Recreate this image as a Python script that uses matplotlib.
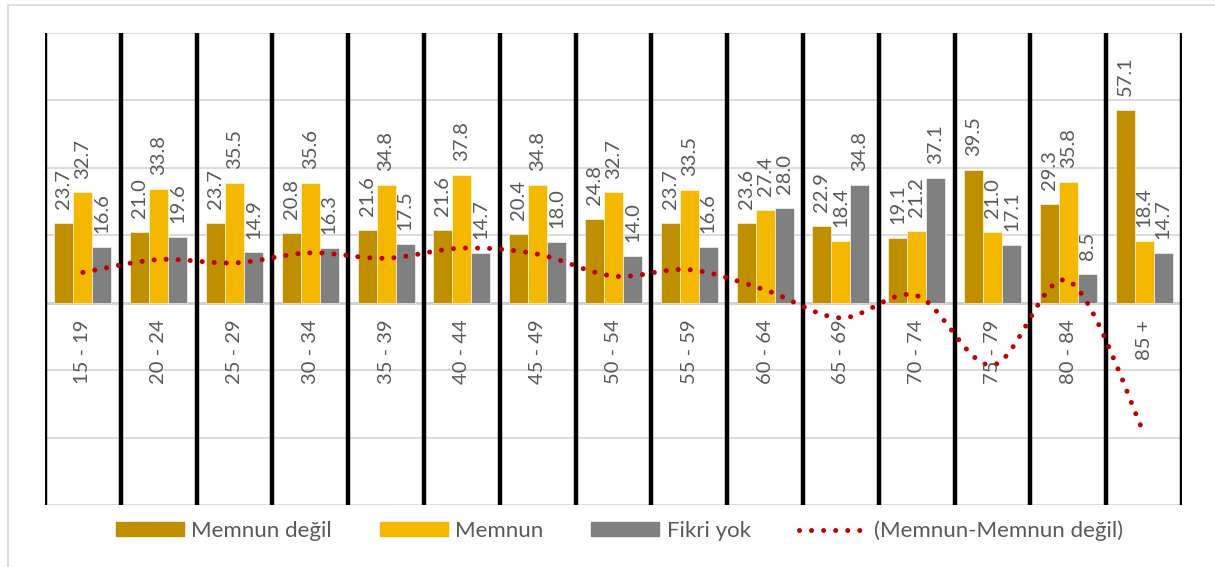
import matplotlib
matplotlib.use("Agg")
import matplotlib.pyplot as plt
from matplotlib.path import Path
from matplotlib.patches import PathPatch, Rectangle, Patch
from matplotlib.lines import Line2D
import numpy as np

plt.rcParams['font.family'] = ['Lato', 'DejaVu Sans']

# age groups and survey shares (%)
groups = ["15 - 19", "20 - 24", "25 - 29", "30 - 34", "35 - 39", "40 - 44", "45 - 49",
          "50 - 54", "55 - 59", "60 - 64", "65 - 69", "70 - 74", "75 - 79", "80 - 84", "85 +"]
memnun_degil = [23.7, 21.0, 23.7, 20.8, 21.6, 21.6, 20.4, 24.8, 23.7, 23.6, 22.9, 19.1, 39.5, 29.3, 57.1]
memnun = [32.7, 33.8, 35.5, 35.6, 34.8, 37.8, 34.8, 32.7, 33.5, 27.4, 18.4, 21.2, 21.0, 35.8, 18.4]
fikri_yok = [16.6, 19.6, 14.9, 16.3, 17.5, 14.7, 18.0, 14.0, 16.6, 28.0, 34.8, 37.1, 17.1, 8.5, 14.7]

series_names = ["Memnun değil", "Memnun", "Fikri yok"]
line_name = "(Memnun-Memnun değil)"

c_degil = "#BF8F00"
c_memnun = "#F4B800"
c_fikri = "#808080"
c_line = "#C00000"
txt = "#595959"

fig = plt.figure(figsize=(12.15, 5.67), dpi=100)
ax = fig.add_axes([45/1215, 1-505/567, (1182-45)/1215, (505-33)/567])

x = np.arange(len(groups))
w = 0.25
ax.set_xlim(-0.5, len(groups)-0.5)
ax.set_ylim(-60, 80)

# light horizontal grid
for yv in range(-60, 81, 20):
    ax.axhline(yv, color="#D9D9D9", lw=1.3, zorder=0)
ax.axhline(0, color="#D0D0D0", lw=2, zorder=1)

# thick black separators between groups
for xv in np.arange(-0.5, len(groups), 1.0):
    ax.axvline(xv, color="black", lw=3.2, zorder=2)

for off, vals, col in zip([-w, 0, w], [memnun_degil, memnun, fikri_yok], [c_degil, c_memnun, c_fikri]):
    ax.bar(x + off, vals, width=w, color=col, edgecolor="white", linewidth=0.4, zorder=3)
    for xi, v in zip(x + off, vals):
        ax.annotate(f"{v:.1f}", (xi, v), xytext=(0, 10), textcoords="offset points",
                    rotation=90, ha="center", va="bottom", fontsize=14.5, color=txt, zorder=5)

# group labels under the zero line
for xi, g in zip(x, groups):
    ax.annotate(g, (xi, 0), xytext=(0, -12), textcoords="offset points",
                rotation=90, ha="center", va="top", fontsize=14.5, color=txt, zorder=5)

# smoothed difference line (cubic Bezier through each point)
diff = np.array(memnun) - np.array(memnun_degil)
pts = np.column_stack([x, diff]).astype(float)
ext = np.vstack([pts[0], pts, pts[-1]])
verts = [pts[0]]
codes = [Path.MOVETO]
for i in range(len(pts) - 1):
    p0, p1, p2, p3 = ext[i], ext[i+1], ext[i+2], ext[i+3]
    verts += [p1 + (p2 - p0) / 6, p2 - (p3 - p1) / 6, p2]
    codes += [Path.CURVE4] * 3
curve = PathPatch(Path(verts, codes), fill=False, edgecolor=c_line, lw=3.6,
                  linestyle=(0, (0.01, 2.4)), capstyle="round", zorder=4)
ax.add_patch(curve)

ax.set_xticks([])
ax.set_yticks([])
for s in ax.spines.values():
    s.set_visible(False)

handles = [Patch(color=c_degil), Patch(color=c_memnun), Patch(color=c_fikri),
           Line2D([], [], color=c_line, lw=3.6, linestyle=(0, (0.01, 2.4)), dash_capstyle="round")]
leg = fig.legend(handles, series_names + [line_name], loc="center", bbox_to_anchor=(0.51, 0.064),
                 ncol=4, frameon=False, fontsize=16, handlelength=3.05, handleheight=0.6,
                 handletextpad=0.35, columnspacing=2.15)
for t in leg.get_texts():
    t.set_color(txt)

# chart frame
fig.patches.append(Rectangle((8/1215, -0.1), 1.1, 1.1 - 5/567, transform=fig.transFigure,
                             fill=False, edgecolor="#D9D9D9", lw=1.2))

fig.savefig("out.png", dpi=100)
